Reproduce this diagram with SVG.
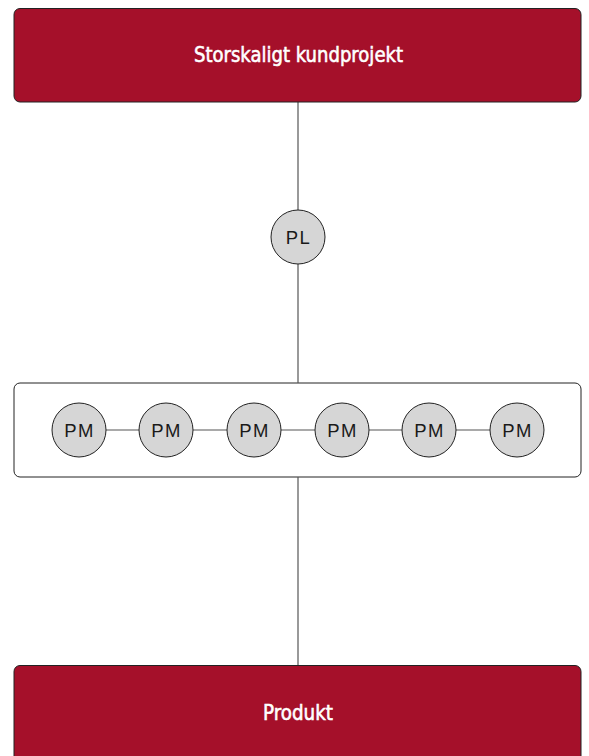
<svg xmlns="http://www.w3.org/2000/svg" width="589" height="756" viewBox="0 0 589 756">
<style>
.hdr{fill:#a5102a;stroke:#222;stroke-width:1}
.hdr-t{fill:#fff;stroke:#fff;stroke-width:0.55;font-family:"DejaVu Sans Condensed","DejaVu Sans",sans-serif;font-size:21px;text-anchor:middle}
.grp{fill:#fff;stroke:#222;stroke-width:1}
.c{fill:#d6d6d6;stroke:#222;stroke-width:1}
.c-t{fill:#1a1a1a;font-family:"Liberation Sans",Arial,sans-serif;font-size:18.5px;letter-spacing:1.5px;text-anchor:middle;dominant-baseline:central}
.ln{stroke:#555;stroke-width:1.2;fill:none}
</style>
<rect width="589" height="756" fill="#fff"/>
<g id="group">
<rect class="grp" x="14" y="383" width="567" height="94" rx="6"/>
</g>
<g id="connectors">
<line class="ln" x1="298" y1="102" x2="298" y2="210"/>
<line class="ln" x1="298" y1="264" x2="298" y2="383"/>
<line class="ln" x1="298" y1="477" x2="298" y2="665"/>
<line class="ln" x1="106" y1="430" x2="139" y2="430"/>
<line class="ln" x1="193" y1="430" x2="227" y2="430"/>
<line class="ln" x1="281" y1="430" x2="315" y2="430"/>
<line class="ln" x1="369" y1="430" x2="402" y2="430"/>
<line class="ln" x1="456" y1="430" x2="490" y2="430"/>
</g>
<g id="top">
<rect class="hdr" x="14" y="8.5" width="567" height="93.5" rx="6"/>
<text class="hdr-t" x="298.5" y="62" textLength="209" lengthAdjust="spacingAndGlyphs">Storskaligt kundprojekt</text>
</g>
<g id="pl">
<circle class="c" cx="298" cy="237" r="27"/>
<text class="c-t" x="298.5" y="237">PL</text>
</g>
<g id="pm1"><circle class="c" cx="79" cy="430" r="27"/><text class="c-t" x="79.5" y="430">PM</text></g>
<g id="pm2"><circle class="c" cx="166" cy="430" r="27"/><text class="c-t" x="166.5" y="430">PM</text></g>
<g id="pm3"><circle class="c" cx="254" cy="430" r="27"/><text class="c-t" x="254.5" y="430">PM</text></g>
<g id="pm4"><circle class="c" cx="342" cy="430" r="27"/><text class="c-t" x="342.5" y="430">PM</text></g>
<g id="pm5"><circle class="c" cx="429" cy="430" r="27"/><text class="c-t" x="429.5" y="430">PM</text></g>
<g id="pm6"><circle class="c" cx="517" cy="430" r="27"/><text class="c-t" x="517.5" y="430">PM</text></g>
<g id="bottom">
<rect class="hdr" x="14" y="665.5" width="567" height="100" rx="6"/>
<text class="hdr-t" x="298" y="720" textLength="70" lengthAdjust="spacingAndGlyphs">Produkt</text>
</g>
</svg>
